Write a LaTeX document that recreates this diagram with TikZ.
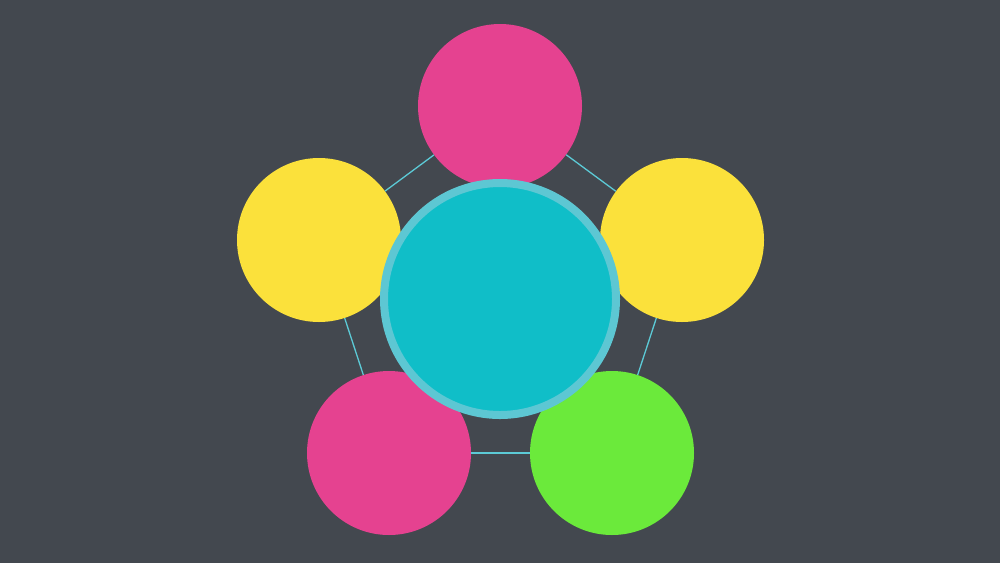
\documentclass[tikz,border=0pt]{standalone}
\definecolor{bgc}{HTML}{43484F}
\definecolor{pinkc}{HTML}{E54290}
\definecolor{yellowc}{HTML}{FBE13B}
\definecolor{greenc}{HTML}{6BEA3B}
\definecolor{cyanc}{HTML}{10BEC8}
\definecolor{ringc}{HTML}{5DC7D3}
\definecolor{linec}{HTML}{5CCAD6}
\begin{document}
\begin{tikzpicture}[x=1pt,y=-1pt,
  outer/.style={circle,minimum size=164pt,inner sep=0pt,draw=none},
  hub/.style={circle,minimum size=232pt,inner sep=0pt,fill=cyanc,draw=ringc,line width=8pt},
  link/.style={draw=linec,line width=1.3pt}]
\fill[bgc] (0,0) rectangle (1000,563);
\useasboundingbox (0,0) rectangle (1000,563);
\node[outer,fill=pinkc] (top) at (500,106) {};
\node[outer,fill=yellowc] (left) at (319,240) {};
\node[outer,fill=yellowc] (right) at (682,240) {};
\node[outer,fill=pinkc] (bl) at (389,453) {};
\node[outer,fill=greenc] (br) at (612,453) {};
\path[link] (top) -- (left);
\path[link] (top) -- (right);
\path[link] (left) -- (bl);
\path[link] (right) -- (br);
\path[link] (bl) -- (br);
\node[hub] (hub) at (500,299) {};
\end{tikzpicture}
\end{document}
